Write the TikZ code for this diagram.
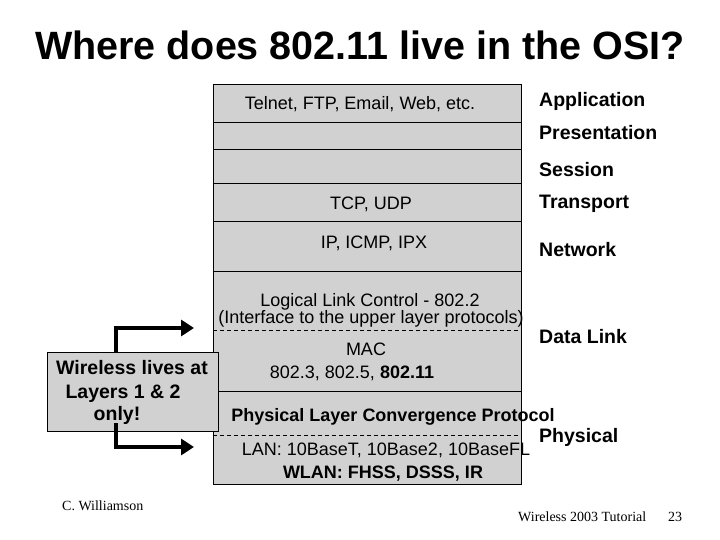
\documentclass[tikz,border=0pt]{standalone}
\usepackage{fontspec}
\setmainfont{Liberation Sans}
\newfontfamily\seriffont{Liberation Serif}
\usetikzlibrary{arrows.meta}
\tikzset{
  rowbox/.style={draw=black, fill=black!18, line width=0.8pt, minimum width=308pt, inner sep=0pt, anchor=north west},
  sidebox/.style={draw=black, fill=black!18, line width=0.8pt, minimum width=171pt, minimum height=79pt, inner sep=0pt},
  sepline/.style={dashed, line width=0.7pt, dash pattern=on 4pt off 3pt},
  txt/.style={inner sep=0pt, anchor=base, font=\fontsize{18}{20}\selectfont},
  btxt/.style={inner sep=0pt, anchor=base, font=\fontsize{18}{20}\selectfont\bfseries},
  lbl/.style={inner sep=0pt, anchor=base west, font=\fontsize{19.5}{22}\selectfont\bfseries},
  sidetxt/.style={inner sep=0pt, anchor=base, font=\fontsize{19.5}{22}\selectfont\bfseries},
  foot/.style={inner sep=0pt, anchor=base west, font=\fontsize{14}{16}\selectfont\seriffont},
  bigarrow/.style={line width=4pt, -{Triangle[length=13pt,width=16pt]}}
}
\begin{document}
\begin{tikzpicture}[x=1pt,y=-1pt]
\useasboundingbox (0,0) rectangle (720,540);
\fill[white] (0,0) rectangle (720,540);

% title
\node[inner sep=0pt, anchor=base, font=\fontsize{39.5}{43}\selectfont\bfseries] (title) at (360,60) {Where does 802.11 live in the OSI?};

% layer stack
\node[rowbox, minimum height=38pt] (app) at (213,84) {};
\node[rowbox, minimum height=27pt] (pres) at (213,122) {};
\node[rowbox, minimum height=34pt] (sess) at (213,149) {};
\node[rowbox, minimum height=38pt] (trans) at (213,183) {};
\node[rowbox, minimum height=50pt] (net) at (213,221) {};
\node[rowbox, minimum height=120pt] (dl) at (213,271) {};
\node[rowbox, minimum height=93pt] (phy) at (213,391) {};
\draw[sepline] (213,330) -- (521,330);
\draw[sepline] (213,435) -- (521,435);

% texts in stack
\node[txt] (t-app) at (360,110) {Telnet, FTP, Email, Web, etc.};
\node[txt] (t-trans) at (371,210) {TCP, UDP};
\node[txt] (t-net) at (374,248) {IP, ICMP, IPX};
\node[txt] (t-llc) at (370,306) {Logical Link Control - 802.2};
\node[txt] (t-llc2) at (371,323) {(Interface to the upper layer protocols)};
\node[txt] (t-mac) at (366,355) {MAC};
\node[txt] (t-mac2) at (352,378) {802.3, 802.5, \textbf{802.11}};
\node[btxt] (t-plcp) at (393,421) {Physical Layer Convergence Protocol};
\node[txt] (t-lan) at (386,455) {LAN: 10BaseT, 10Base2, 10BaseFL};
\node[btxt] (t-wlan) at (383,478) {WLAN: FHSS, DSSS, IR};

% layer labels
\node[lbl] (l-app) at (539,107) {Application};
\node[lbl] (l-pres) at (539,140) {Presentation};
\node[lbl] (l-sess) at (539,177) {Session};
\node[lbl] (l-trans) at (539,209) {Transport};
\node[lbl] (l-net) at (539,256) {Network};
\node[lbl] (l-dl) at (539,343) {Data Link};
\node[lbl] (l-phy) at (539,442) {Physical};

% side box and arrows
\node[sidebox] (side) at (132.5,391.5) {};
\coordinate (ustart) at (116,353);
\coordinate (uend) at (194,328);
\coordinate (lstart) at (116,423);
\coordinate (lend) at (194,447);
\draw[bigarrow] (ustart) |- (uend);
\node[sidetxt] (s1) at (132,374) {Wireless lives at};
\node[sidetxt] (s2) at (123,398) {Layers 1 \& 2};
\node[sidetxt] (s3) at (117,420) {only!};
\draw[bigarrow] (lstart) |- (lend);

% footer
\node[foot] (f1) at (62,510) {C. Williamson};
\node[foot] (f2) at (518,521) {Wireless 2003 Tutorial};
\node[foot] (f3) at (668,521) {23};
\end{tikzpicture}
\end{document}
